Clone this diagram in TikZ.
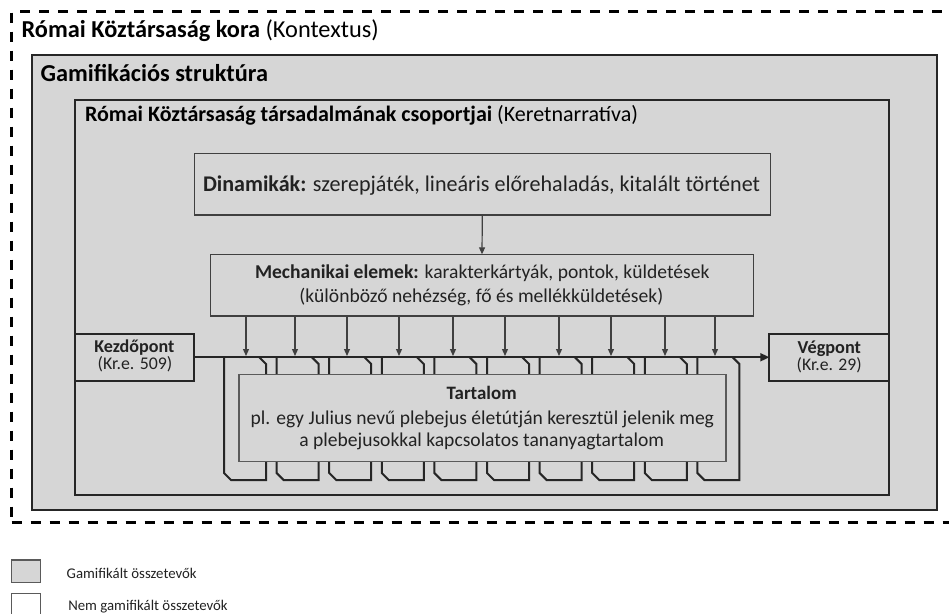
\documentclass[tikz,border=0pt]{standalone}
\usepackage{fontspec}
\setmainfont{Carlito}
\usetikzlibrary{arrows.meta}
\definecolor{gfill}{HTML}{D6D6D6}
\definecolor{dk}{HTML}{262626}
\definecolor{md}{HTML}{404040}
\definecolor{lt}{HTML}{5A5A5A}
\definecolor{tx}{HTML}{222222}
\newcommand{\fw}[2]{\resizebox{#1pt}{!}{#2}}
\begin{document}
\begin{tikzpicture}[x=1pt,y=-1pt,
  every node/.style={inner sep=0pt, outer sep=0pt},
  txt/.style={text=tx, anchor=base west, font=\fontsize{16}{19}\selectfont},
  thickbox/.style={draw=dk, line width=2pt, fill=gfill, anchor=north west},
  thinbox/.style={draw=md, line width=1.2pt, fill=gfill, anchor=north west},
  ctxbox/.style={draw=black, line width=2.6pt, dash pattern=on 10pt off 9pt, anchor=north west},
  legbox/.style={draw=lt, line width=1.1pt, anchor=north west},
  arr/.style={draw=md, line width=1.2pt, -{Triangle[length=7pt,width=6pt]}},
  mainline/.style={draw=dk, line width=2pt},
  loopline/.style={draw=dk, line width=2pt}
]
\useasboundingbox (0,0) rectangle (949,613);
\fill[white] (0,0) rectangle (949,613);

% context (dashed, runs off the right edge)
\node[ctxbox, minimum width=960pt, minimum height=511pt] (ctx) at (11.5,11.5) {};

% gamification structure
\node[thickbox, minimum width=905.5pt, minimum height=455pt] (gam) at (31.5,55) {};
% frame narrative
\node[thickbox, minimum width=813.5pt, minimum height=395.5pt] (ker) at (75,99.5) {};

% dynamics and mechanics
\node[thinbox, minimum width=576pt, minimum height=61.7pt] (dyn) at (194.3,153.3) {};
\node[thinbox, minimum width=542.6pt, minimum height=61.7pt] (mech) at (210.7,254.3) {};
\draw[arr] (dyn.south) -- (mech.north);

% arrows from mechanics to the timeline
\foreach \x [count=\i] in {246,295,347,399,453,505,559,611,665,715} {
  \coordinate (a\i) at (\x,356);
  \draw[arr] (mech.south -| a\i) -- (a\i);
}

% loops
\foreach \i in {0,...,9} {
  \pgfmathsetmacro\xl{224+52.6*\i}
  \draw[loopline] (\xl,357) -- (\xl,473) -- (\xl+7,480) -- (\xl+42,480) -- (\xl+42,364) -- (\xl+35,357);
}

% start / end
\node[thickbox, minimum width=119.3pt, minimum height=47.5pt] (kezd) at (75,333.5) {};
\node[thickbox, minimum width=119.2pt, minimum height=47.5pt] (veg) at (769.3,333.5) {};
\draw[mainline, -{Triangle[length=9pt,width=8pt]}] (kezd.east) -- (veg.west);

% content
\node[draw=lt, line width=1.1pt, fill=gfill, anchor=north west, minimum width=487pt, minimum height=87.4pt] (tart) at (239,374.3) {};

% legend
\node[legbox, fill=gfill, minimum width=29pt, minimum height=22.7pt] (lg1) at (11.7,560) {};
\node[legbox, fill=white, minimum width=29pt, minimum height=23pt] (lg2) at (11.7,593.3) {};

% texts
\node[txt, text=black] (t1) at (21.7,37.3) {\fw{357}{\textbf{Római Köztársaság kora} (Kontextus)}};
\node[txt, text=black] (t2) at (40.7,81.7) {\fw{227.3}{\textbf{Gamifikációs struktúra}}};
\node[txt, text=black] (t3) at (85,121.7) {\fw{553}{\textbf{Római Köztársaság társadalmának csoportjai} (Keretnarratíva)}};
\node[txt] (t4) at (203,191) {\resizebox{557pt}{\height}{\fontsize{22.4}{26}\selectfont\textbf{Dinamikák:} szerepjáték, lineáris előrehaladás, kitalált történet}};
\node[txt] (t5) at (255,278.3) {\fw{454.3}{\textbf{Mechanikai elemek:} karakterkártyák, pontok, küldetések}};
\node[txt] (t6) at (299.3,302.7) {\fw{364}{(különböző nehézség, fő és mellékküldetések)}};
\node[txt] (t7) at (94.3,352.7) {\fw{80}{\textbf{Kezdőpont}}};
\node[txt] (t8) at (97.7,369.5) {\fw{74.6}{(Kr.e. 509)}};
\node[txt] (t9) at (797.7,353.3) {\fw{63.3}{\textbf{Végpont}}};
\node[txt] (t10) at (796.7,370) {\fw{65}{(Kr.e. 29)}};
\node[txt] (t11) at (446.7,399.3) {\fw{70}{\textbf{Tartalom}}};
\node[txt] (t12) at (250.7,424.3) {\fw{463.3}{pl. egy Julius nevű plebejus életútján keresztül jelenik meg}};
\node[txt] (t13) at (299.3,446.7) {\fw{364.7}{a plebejusokkal kapcsolatos tananyagtartalom}};
\node[txt] (t14) at (66.7,578.3) {\fw{130}{Gamifikált összetevők}};
\node[txt] (t15) at (68.3,610) {\fw{159.4}{Nem gamifikált összetevők}};
\end{tikzpicture}
\end{document}
